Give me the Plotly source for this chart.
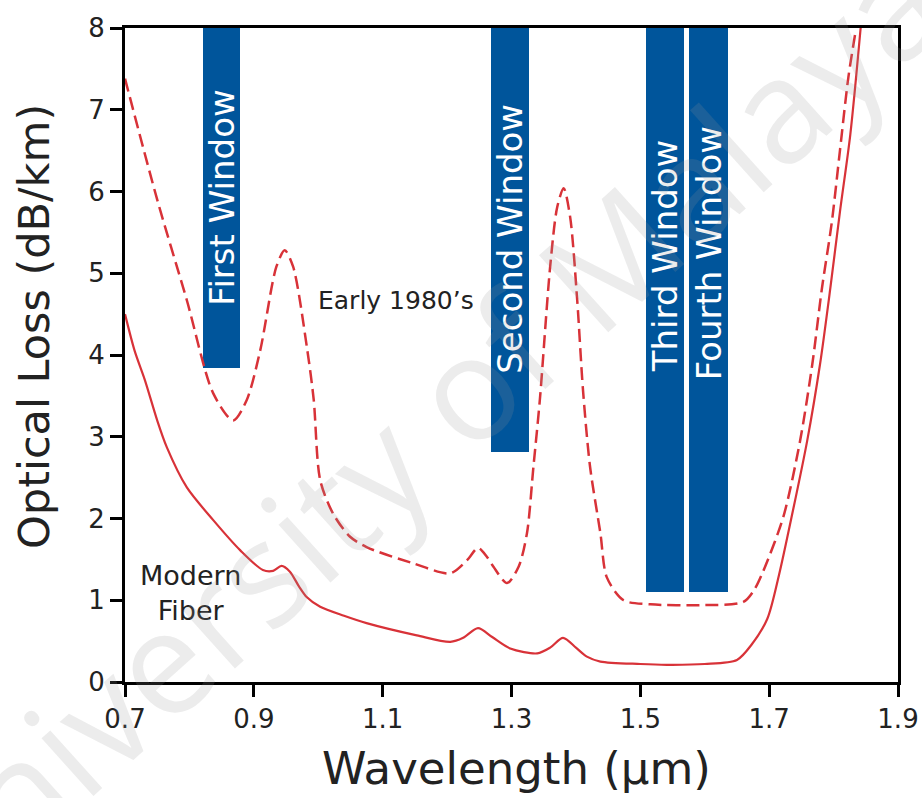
import plotly.graph_objects as go

# ---- data ----
modern_x = [0.70, 0.715, 0.731, 0.75, 0.765, 0.796, 0.837, 0.879, 0.914, 0.930, 0.943, 0.956,
            0.970, 0.982, 1.003, 1.04, 1.075, 1.153, 1.205, 1.225, 1.248, 1.270, 1.298, 1.34,
            1.36, 1.380, 1.40, 1.417, 1.438, 1.50, 1.541, 1.60, 1.650, 1.672, 1.697, 1.715,
            1.737, 1.759, 1.779, 1.795, 1.810, 1.826, 1.842]
modern_y = [4.50, 4.05, 3.69, 3.20, 2.87, 2.38, 1.98, 1.61, 1.37, 1.36, 1.42, 1.35,
            1.17, 1.04, 0.92, 0.81, 0.72, 0.57, 0.49, 0.54, 0.66, 0.55, 0.41, 0.35,
            0.42, 0.54, 0.42, 0.31, 0.25, 0.22, 0.21, 0.22, 0.27, 0.45, 0.77, 1.30,
            2.10, 2.95, 3.89, 4.82, 5.76, 6.70, 8.0]

early_x = [0.70, 0.75, 0.796, 0.837, 0.868, 0.889, 0.91, 0.935, 0.948, 0.961, 0.983, 0.993,
           1.003, 1.023, 1.049, 1.075, 1.148, 1.205, 1.231, 1.248, 1.262, 1.272, 1.293, 1.311,
           1.324, 1.334, 1.344, 1.36, 1.371, 1.381, 1.391, 1.402, 1.411, 1.422, 1.438, 1.448,
           1.474, 1.516, 1.593, 1.660, 1.677, 1.691, 1.722, 1.748, 1.767, 1.782, 1.797, 1.810,
           1.823, 1.834]
early_y = [7.38, 5.90, 4.67, 3.53, 3.20, 3.45, 4.06, 5.08, 5.28, 5.08, 4.06, 3.45,
           2.47, 2.06, 1.78, 1.65, 1.45, 1.33, 1.49, 1.64, 1.53, 1.41, 1.21, 1.41,
           1.82, 2.63, 3.45, 5.08, 5.81, 6.04, 5.69, 4.67, 3.57, 2.63, 1.82, 1.28,
           1.00, 0.95, 0.94, 0.98, 1.13, 1.36, 2.02, 2.95, 3.89, 4.82, 5.61, 6.51,
           7.40, 7.95]

window_names = ["First Window", "Second Window", "Third Window", "Fourth Window"]
window_left = [0.821, 1.268, 1.509, 1.576]
window_right = [0.879, 1.327, 1.568, 1.636]
window_bottom = [3.84, 2.81, 1.10, 1.10]
window_top = 8.0
window_label_y = [5.92, 5.42, 5.21, 5.24]

x_ticks = [0.7, 0.9, 1.1, 1.3, 1.5, 1.7, 1.9]
x_ticktext = ["0.7", "0.9", "1.1", "1.3", "1.5", "1.7", "1.9"]
y_ticks = [0, 1, 2, 3, 4, 5, 6, 7, 8]

RED = "rgb(216,50,56)"
BLUE = "rgb(0,85,155)"
FONT = "DejaVu Sans"

fig = go.Figure()

# window bars
centers = [(l + r) / 2 for l, r in zip(window_left, window_right)]
widths = [r - l for l, r in zip(window_left, window_right)]
heights = [window_top - b for b in window_bottom]
fig.add_trace(go.Bar(x=centers, y=heights, base=window_bottom, width=widths,
                     marker=dict(color=BLUE, line=dict(width=0)),
                     showlegend=False, hoverinfo="skip"))

fig.add_trace(go.Scatter(x=early_x, y=early_y, mode="lines",
                         line=dict(color=RED, width=2.5, dash="13px,6px", shape="spline", smoothing=0.8),
                         showlegend=False))
fig.add_trace(go.Scatter(x=modern_x, y=modern_y, mode="lines",
                         line=dict(color=RED, width=2.2, shape="spline", smoothing=0.8),
                         showlegend=False))

annotations = []
for name, cx, ly in zip(window_names, centers, window_label_y):
    annotations.append(dict(x=cx, y=ly, xref="x", yref="y", text=name, showarrow=False,
                            textangle=-90, font=dict(family=FONT, size=34, color="white"),
                            xanchor="center", yanchor="middle"))

annotations.append(dict(x=1.120, y=4.67, xref="x", yref="y", text="Early 1980’s", showarrow=False,
                        font=dict(family=FONT, size=25, color="#222"), xanchor="center", yanchor="middle"))
annotations.append(dict(x=0.801, y=1.09, xref="x", yref="y", text="Modern<br>Fiber", showarrow=False,
                        font=dict(family=FONT, size=27, color="#222"), xanchor="center", yanchor="middle"))

# axis titles
annotations.append(dict(x=(516 - 125) / 773, y=-(768 - 682) / 654, xref="paper", yref="paper",
                        text="Wavelength (µm)", showarrow=False,
                        font=dict(family=FONT, size=45, color="#222"), xanchor="center", yanchor="middle"))
annotations.append(dict(x=-(125 - 34) / 773, y=(682 - 327) / 654, xref="paper", yref="paper",
                        text="Optical Loss (dB/km)", showarrow=False, textangle=-90,
                        font=dict(family=FONT, size=43, color="#222"), xanchor="center", yanchor="middle"))

# watermark
annotations.append(dict(x=(409 - 125) / 773, y=(682 - 435) / 654, xref="paper", yref="paper",
                        text="University of Malaya", showarrow=False, textangle=-42,
                        font=dict(family="Open Sans", size=145, color="rgba(150,150,150,0.18)"),
                        xanchor="center", yanchor="middle"))

fig.update_layout(
    width=922, height=798,
    margin=dict(l=125, r=24, t=28, b=116),
    paper_bgcolor="white", plot_bgcolor="white",
    barmode="overlay", bargap=0,
    annotations=annotations,
    xaxis=dict(range=[0.7, 1.9], tickvals=x_ticks, ticktext=x_ticktext, automargin=False,
               showgrid=False, zeroline=False, showline=True, linecolor="black", linewidth=3,
               mirror=True, ticks="outside", ticklen=12, tickwidth=3, tickcolor="black",
               tickfont=dict(family=FONT, size=26, color="#222")),
    yaxis=dict(range=[0, 8], tickvals=y_ticks, automargin=False,
               showgrid=False, zeroline=False, showline=True, linecolor="black", linewidth=3,
               mirror=True, ticks="outside", ticklen=12, tickwidth=3, tickcolor="black",
               tickfont=dict(family=FONT, size=26, color="#222")),
)

fig.write_html("out.html")
